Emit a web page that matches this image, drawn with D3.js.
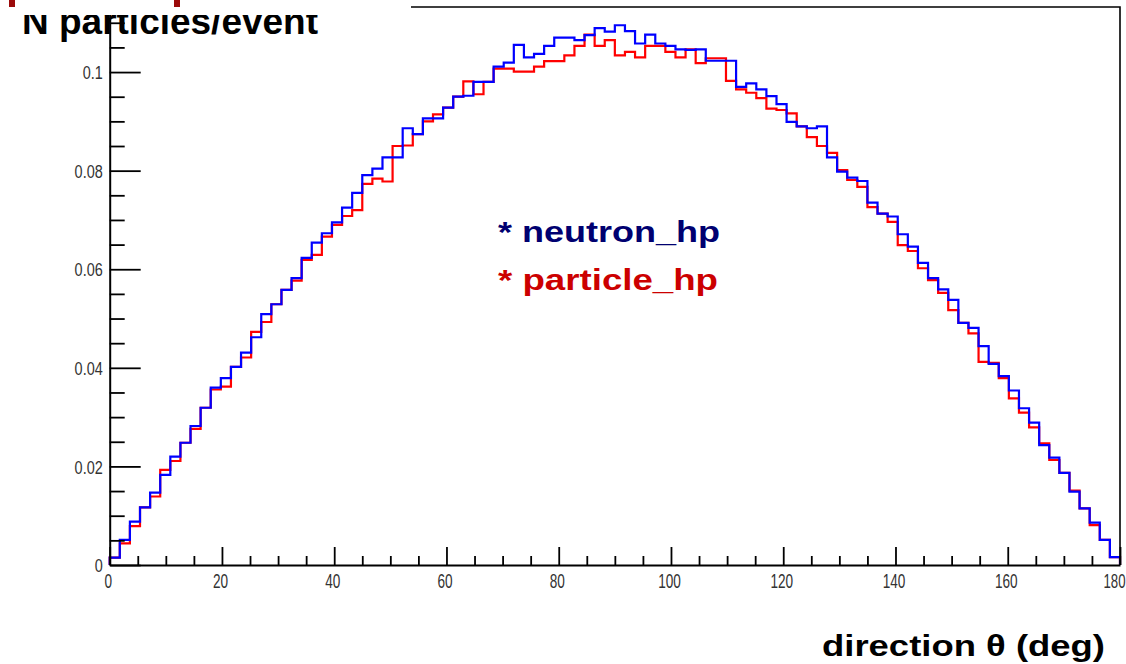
<!DOCTYPE html>
<html>
<head>
<meta charset="utf-8">
<script src="https://cdn.jsdelivr.net/npm/d3@7"></script>
<style>
  html, body { margin: 0; padding: 0; background: #fff; }
  svg { display: block; }
</style>
</head>
<body>
<svg id="chart" width="1126" height="664"></svg>
<script>
// ---- data ----
const binWidth = 1.8;          // degrees per bin (100 bins over 0..180)
const xDomain = [0, 180];
const yDomain = [0, 0.1132];

const neutronHP = [
  0.0015, 0.0051, 0.0088, 0.0117, 0.0147, 0.0183, 0.0220, 0.0248, 0.0282, 0.0319,
  0.0360, 0.0379, 0.0402, 0.0431, 0.0462, 0.0509, 0.0529, 0.0558, 0.0582, 0.0623,
  0.0654, 0.0673, 0.0695, 0.0725, 0.0755, 0.0791, 0.0804, 0.0827, 0.0827, 0.0886,
  0.0874, 0.0906, 0.0906, 0.0928, 0.0950, 0.0952, 0.0980, 0.0980, 0.1011, 0.1019,
  0.1055, 0.1030, 0.1037, 0.1053, 0.1070, 0.1070, 0.1065, 0.1075, 0.1089, 0.1082,
  0.1095, 0.1083, 0.1058, 0.1076, 0.1058, 0.1053, 0.1046, 0.1045, 0.1046, 0.1023,
  0.1023, 0.1023, 0.0970, 0.0977, 0.0965, 0.0951, 0.0935, 0.0899, 0.0890, 0.0886,
  0.0890, 0.0827, 0.0798, 0.0786, 0.0779, 0.0735, 0.0713, 0.0707, 0.0671, 0.0646,
  0.0613, 0.0582, 0.0559, 0.0538, 0.0491, 0.0481, 0.0444, 0.0408, 0.0383, 0.0354,
  0.0318, 0.0289, 0.0243, 0.0218, 0.0187, 0.0149, 0.0115, 0.0086, 0.0051, 0.0016
];

const particleHP = [
  0.0015, 0.0044, 0.0079, 0.0117, 0.0139, 0.0193, 0.0211, 0.0248, 0.0276, 0.0319,
  0.0356, 0.0362, 0.0402, 0.0421, 0.0473, 0.0493, 0.0529, 0.0558, 0.0577, 0.0619,
  0.0629, 0.0666, 0.0690, 0.0708, 0.0720, 0.0773, 0.0784, 0.0778, 0.0850, 0.0851,
  0.0874, 0.0900, 0.0914, 0.0928, 0.0950, 0.0981, 0.0955, 0.0980, 0.1007, 0.1007,
  0.1001, 0.1001, 0.1011, 0.1022, 0.1022, 0.1034, 0.1053, 0.1076, 0.1053, 0.1065,
  0.1034, 0.1041, 0.1030, 0.1053, 0.1053, 0.1041, 0.1030, 0.1046, 0.1018, 0.1028,
  0.1028, 0.0982, 0.0965, 0.0958, 0.0947, 0.0926, 0.0923, 0.0916, 0.0890, 0.0868,
  0.0850, 0.0836, 0.0801, 0.0781, 0.0767, 0.0726, 0.0713, 0.0696, 0.0649, 0.0637,
  0.0602, 0.0578, 0.0552, 0.0517, 0.0491, 0.0470, 0.0412, 0.0410, 0.0379, 0.0338,
  0.0309, 0.0279, 0.0247, 0.0213, 0.0187, 0.0151, 0.0115, 0.0081, 0.0051, 0.0016
];

const xMajorTicks = [0, 20, 40, 60, 80, 100, 120, 140, 160, 180];
const xMajorLabels = ["0", "20", "40", "60", "80", "100", "120", "140", "160", "180"];
const xMinorTicks = [5, 10, 15, 25, 30, 35, 45, 50, 55, 65, 70, 75, 85, 90, 95, 105, 110, 115, 125, 130, 135, 145, 150, 155, 165, 170, 175];
const yMajorTicks = [0, 0.02, 0.04, 0.06, 0.08, 0.1];
const yMajorLabels = ["0", "0.02", "0.04", "0.06", "0.08", "0.1"];
const yMinorTicks = [0.005, 0.01, 0.015, 0.025, 0.03, 0.035, 0.045, 0.05, 0.055, 0.065, 0.07, 0.075, 0.085, 0.09, 0.095, 0.105, 0.11];

const legendItems = [
  { label: "* neutron_hp", color: "#000070" },
  { label: "* particle_hp", color: "#cc0000" }
];

// ---- layout ----
const svg = d3.select("#chart");
const x = d3.scaleLinear().domain(xDomain).range([109.7, 1120]);
const y = d3.scaleLinear().domain(yDomain).range([565, 7]);

// histogram outlines (step)
function histPoints(vals) {
  const pts = [[xDomain[0], 0]];
  vals.forEach((v, i) => pts.push([i * binWidth, v]));
  pts.push([xDomain[1], vals[vals.length - 1]]);
  pts.push([xDomain[1], 0]);
  return pts;
}
const line = d3.line().x(d => x(d[0])).y(d => y(d[1])).curve(d3.curveStepAfter);

svg.append("path").datum(histPoints(particleHP))
  .attr("d", line).attr("fill", "none").attr("stroke", "#ff0000").attr("stroke-width", 2.2);
svg.append("path").datum(histPoints(neutronHP))
  .attr("d", line).attr("fill", "none").attr("stroke", "#0000ff").attr("stroke-width", 2.2);

// frame (top & right)
svg.append("path")
  .attr("d", `M${x(0)},${y(yDomain[1])}H${x(180)}V${y(0)}`)
  .attr("fill", "none").attr("stroke", "#000").attr("stroke-width", 1.6);

// x axis
const gxMinor = svg.append("g").attr("transform", `translate(0,${y(0)})`)
  .call(d3.axisBottom(x).tickValues(xMinorTicks).tickSize(-9).tickSizeOuter(0).tickFormat(""));
gxMinor.select(".domain").remove();
gxMinor.selectAll("line").attr("stroke-width", 1.8);

const gx = svg.append("g").attr("transform", `translate(0,${y(0)})`)
  .call(d3.axisBottom(x).tickValues(xMajorTicks).tickSize(-18).tickSizeOuter(0)
    .tickFormat((d, i) => xMajorLabels[i]));
gx.select(".domain").attr("stroke-width", 2);
gx.selectAll("line").attr("stroke-width", 1.8);
gx.selectAll("text")
  .attr("y", null).attr("dy", null)
  .attr("transform", (d, i) => i === xMajorTicks.length - 1
      ? "translate(-6,23) scale(0.66,1)"
      : "translate(-2,23) scale(0.68,1)")
  .attr("font-family", "'Liberation Sans', Arial, sans-serif")
  .attr("font-size", 20).attr("fill", "#333");

// y axis
const gyMinor = svg.append("g").attr("transform", `translate(${x(0)},0)`)
  .call(d3.axisLeft(y).tickValues(yMinorTicks).tickSize(-15).tickSizeOuter(0).tickFormat(""));
gyMinor.select(".domain").remove();
gyMinor.selectAll("line").attr("stroke-width", 1.8);

const gy = svg.append("g").attr("transform", `translate(${x(0)},0)`)
  .call(d3.axisLeft(y).tickValues(yMajorTicks).tickSize(-31).tickSizeOuter(0)
    .tickFormat((d, i) => yMajorLabels[i]));
gy.select(".domain").attr("stroke-width", 2);
gy.selectAll("line").attr("stroke-width", 1.8);
gy.selectAll("text")
  .attr("x", null).attr("dy", "0.35em")
  .attr("text-anchor", "end")
  .attr("transform", "translate(-7,0) scale(0.76,1)")
  .attr("font-family", "'Liberation Sans', Arial, sans-serif")
  .attr("font-size", 19).attr("fill", "#333");

// y axis title (slide text, top partially hidden)
svg.append("text")
  .attr("x", 22).attr("y", 34)
  .attr("font-family", "'Liberation Sans', Arial, sans-serif")
  .attr("font-weight", "bold").attr("font-size", 36)
  .attr("textLength", 296).attr("lengthAdjust", "spacingAndGlyphs")
  .text("N particles/event");

// white slide box covering the top-left corner
svg.append("rect").attr("x", 0).attr("y", 0).attr("width", 411).attr("height", 15).attr("fill", "#fff");

// remnants of slide title above (dark red)
svg.append("rect").attr("x", 9).attr("y", 0).attr("width", 6).attr("height", 7).attr("fill", "#9b0a0a");
svg.append("rect").attr("x", 174).attr("y", 0).attr("width", 6).attr("height", 7).attr("fill", "#9b0a0a");

// legend text
svg.selectAll("text.legend").data(legendItems).enter().append("text")
  .attr("class", "legend")
  .attr("x", 498).attr("y", (d, i) => 242 + i * 48)
  .attr("font-family", "'Liberation Sans', Arial, sans-serif")
  .attr("font-weight", "bold").attr("font-size", 29)
  .attr("textLength", (d, i) => i === 0 ? 222 : 220).attr("lengthAdjust", "spacingAndGlyphs")
  .attr("fill", d => d.color)
  .text(d => d.label);

// x axis title
svg.append("text")
  .attr("x", 822).attr("y", 656)
  .attr("font-family", "'Liberation Sans', Arial, sans-serif")
  .attr("font-weight", "bold").attr("font-size", 29)
  .attr("textLength", 283).attr("lengthAdjust", "spacingAndGlyphs")
  .text("direction θ (deg)");
</script>
</body>
</html>
